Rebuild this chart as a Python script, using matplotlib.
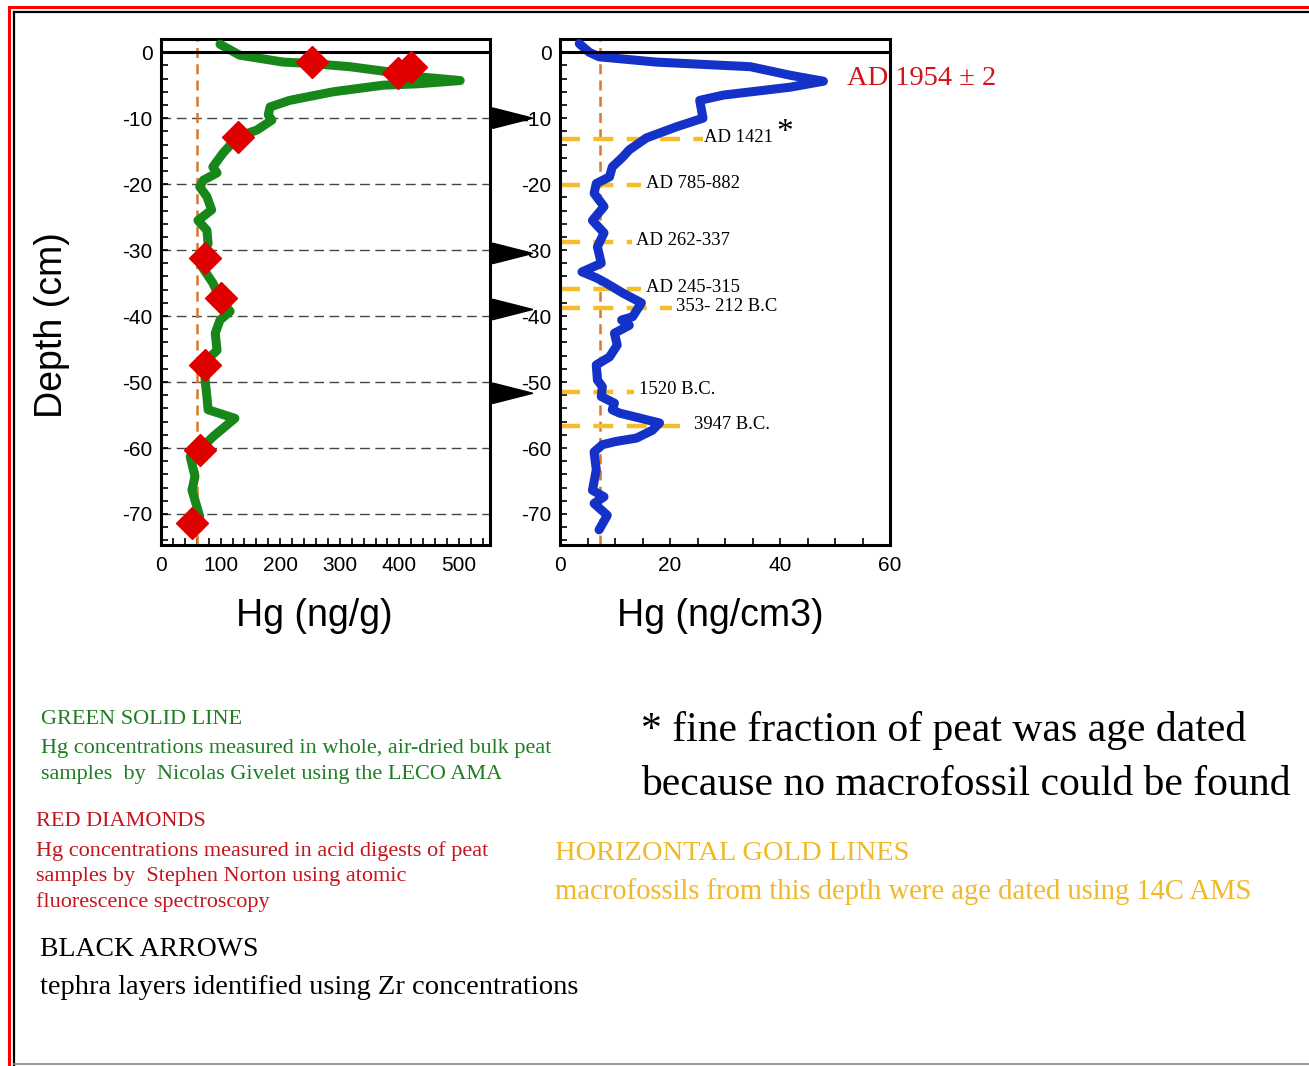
import matplotlib
matplotlib.use('Agg')
import matplotlib.pyplot as plt
from matplotlib.lines import Line2D
from matplotlib.patches import Polygon
import matplotlib.transforms as mtransforms
from matplotlib.ticker import MultipleLocator

plt.rcParams['axes.unicode_minus'] = False

# ---------------- data ----------------
green_hg = [99, 132, 205, 250, 317, 384, 429, 502, 429, 373, 289, 216, 183, 180, 186, 161, 129,
            104, 87, 94, 71, 65, 77, 85, 62, 77, 79, 65, 87, 99, 116, 99, 91, 94, 74, 74, 77,
            79, 124, 87, 65, 49, 57, 52, 57, 65, 52]
green_depth = [1.2, -0.45, -1.5, -1.7, -2.2, -3.0, -3.7, -4.3, -4.8, -5.0, -6.0, -7.3, -8.3, -9.5,
               -10.3, -11.8, -12.8, -15.3, -17.4, -18.3, -19.4, -20.4, -21.9, -23.9, -25.5, -27.0,
               -29.0, -32.0, -35.0, -37.3, -39.3, -40.6, -42.6, -45.2, -46.9, -49.7, -52.2, -54.2,
               -55.5, -58.3, -60.3, -61.3, -64.3, -66.4, -67.9, -70.4, -71.9]

red_hg = [253, 419, 398, 129, 74, 101, 74, 65, 52]
red_depth = [-1.5, -2.3, -3.2, -12.9, -31.2, -37.3, -47.4, -60.3, -71.4]

blue_hg = [3.5, 5.3, 7.1, 17.5, 34.6, 41.9, 47.9, 41.9, 29.7, 25.4, 26.0, 21.2, 15.7, 12.6, 11.4,
           9.5, 9.0, 6.6, 6.2, 8.0, 5.9, 8.0, 6.8, 7.5, 4.0, 6.6, 8.4, 11.4, 14.8, 13.2, 11.2, 12.6,
           9.9, 10.4, 9.0, 6.6, 6.8, 7.7, 7.5, 9.9, 9.5, 10.8, 18.1, 16.8, 13.9, 10.2, 7.7, 6.2,
           6.6, 5.9, 8.0, 6.2, 8.6, 7.1]
blue_depth = [1.3, 0.0, -0.7, -1.5, -2.2, -3.5, -4.4, -5.3, -6.5, -7.3, -10.0, -11.3, -13.0, -14.8,
              -15.9, -17.4, -18.9, -19.9, -21.4, -23.4, -25.5, -27.4, -29.5, -32.0, -33.3, -34.2,
              -35.0, -36.5, -38.0, -40.1, -40.6, -41.4, -42.6, -44.4, -46.2, -47.4, -49.7, -50.7,
              -52.2, -53.2, -54.2, -54.7, -56.2, -57.3, -58.5, -59.0, -59.5, -60.6, -63.3, -66.4,
              -67.4, -68.4, -70.2, -72.4]

background_left = 60      # ng/g
background_right = 7.3    # ng/cm3

tephra_depths = [-10.0, -30.5, -39.0, -51.7]

date_depths = [-13.2, -20.2, -28.8, -35.9, -38.8, -51.5, -56.7]
date_line_end = [26.0, 14.8, 13.0, 14.8, 20.3, 13.5, 23.6]
date_labels = ['AD 1421', 'AD 785-882', 'AD 262-337', 'AD 245-315', '353- 212 B.C', '1520 B.C.', '3947 B.C.']

left_xticks = [0, 100, 200, 300, 400, 500]
right_xticks = [0, 20, 40, 60]
depth_ticks = [0, -10, -20, -30, -40, -50, -60, -70]

# ---------------- style ----------------
W, H = 1309, 1066
GREEN = '#17871a'
BLUE = '#1432c8'
RED = '#e00000'
GOLD = '#f5bd2a'
ORANGE = '#d9782c'
SANS = ['Liberation Sans', 'DejaVu Sans']
SERIF = ['Liberation Serif', 'DejaVu Serif']

fig = plt.figure(figsize=(W / 100, H / 100), dpi=100)
fig.patch.set_facecolor('white')


def fx(px):
    return px / W


def fy(py):
    return 1 - py / H


ax1 = fig.add_axes([fx(161), fy(545), fx(490) - fx(161), fy(39) - fy(545)])
ax2 = fig.add_axes([fx(560), fy(545), fx(890) - fx(560), fy(39) - fy(545)])

for ax in (ax1, ax2):
    ax.set_ylim(-74.7, 2.0)
    ax.set_yticks(depth_ticks)
    ax.yaxis.set_minor_locator(MultipleLocator(2))
    for s in ax.spines.values():
        s.set_linewidth(2.2)
    ax.tick_params(which='both', direction='in', length=5, width=1.2,
                   labelsize=15, top=False, right=False)
    ax.tick_params(axis='y', pad=6)
    ax.tick_params(axis='x', pad=8)
    ax.axhline(0, color='black', lw=2.2, zorder=4)

# left panel
ax1.set_xlim(0, 552)
ax1.set_xticks(left_xticks)
ax1.xaxis.set_minor_locator(MultipleLocator(20))
for d in depth_ticks[1:]:
    ax1.axhline(d, color='#444444', lw=1.0, dashes=(7, 4), zorder=1)
ax1.axvline(background_left, color=ORANGE, lw=1.8, dashes=(4, 2.5), zorder=2)
ax1.plot(green_hg, green_depth, color=GREEN, lw=6.5, solid_capstyle='round',
         solid_joinstyle='round', zorder=3)
ax1.plot(red_hg, red_depth, linestyle='none', marker='D', markersize=16.5,
         color=RED, markeredgecolor=RED, zorder=5)
ax1.set_xlabel('Hg (ng/g)', fontsize=27, family=SANS)
ax1.xaxis.set_label_coords(0.465, (545 - 616) / 506)
ax1.xaxis.label.set_va('center')
ax1.set_ylabel('Depth (cm)', fontsize=27, family=SANS)
ax1.yaxis.set_label_coords((52 - 161) / 329, (545 - 325) / 506)
ax1.yaxis.label.set_va('center')
for lab in ax1.get_xticklabels() + ax1.get_yticklabels():
    lab.set_family(SANS)

# right panel
ax2.set_xlim(0, 60)
ax2.set_xticks(right_xticks)
ax2.xaxis.set_minor_locator(MultipleLocator(5))
ax2.axvline(background_right, color=ORANGE, lw=1.8, dashes=(4, 2.5), zorder=2)
for d, xe in zip(date_depths, date_line_end):
    ax2.plot([0, xe], [d, d], color=GOLD, lw=3.2, dashes=(4.5, 3), zorder=2, clip_on=False)
ax2.plot(blue_hg, blue_depth, color=BLUE, lw=6.5, solid_capstyle='round',
         solid_joinstyle='round', zorder=3)
for d, xe, lab in zip(date_depths, date_line_end, date_labels):
    ax2.text(xe + (0.1 if lab == 'AD 1421' else 0.8), d + 0.3, lab, fontsize=13.4,
             family=SERIF, va='center', ha='left', color='black', zorder=6)
ax2.text(26 + 13.3, date_depths[0] + 1.0, '*', fontsize=24, family=SERIF, va='center', ha='left')
ax2.text(52.1, -4.0, 'AD 1954 \u00b1 2', fontsize=20.5, family=SERIF, color='#d4121a',
         va='center', ha='left', clip_on=False)
ax2.set_xlabel('Hg (ng/cm3)', fontsize=27, family=SANS)
ax2.xaxis.set_label_coords(0.485, (545 - 616) / 506)
ax2.xaxis.label.set_va('center')
for lab in ax2.get_xticklabels() + ax2.get_yticklabels():
    lab.set_family(SANS)

# tephra arrows (black triangles between the panels)
trans = mtransforms.blended_transform_factory(ax1.transAxes, ax1.transData)
for d in tephra_depths:
    tri = Polygon([[1.008, d + 1.55], [1.008, d - 1.55], [1.13, d]], closed=True,
                  facecolor='black', edgecolor='black', transform=trans, clip_on=False, zorder=6)
    ax1.add_patch(tri)

# ---------------- notes ----------------
def note(x, y, s, size, color):
    fig.text(fx(x), fy(y), s, fontsize=size, color=color, family=SERIF, ha='left', va='center')


GREEN_T = '#1f7d23'
RED_T = '#c4141c'
GOLD_T = '#f0b92a'
note(41, 720, 'GREEN SOLID LINE', 16, GREEN_T)
note(41, 749, 'Hg concentrations measured in whole, air-dried bulk peat', 16, GREEN_T)
note(41, 774, 'samples  by  Nicolas Givelet using the LECO AMA', 16, GREEN_T)
note(36, 822, 'RED DIAMONDS', 16, RED_T)
note(36, 851, 'Hg concentrations measured in acid digests of peat', 16, RED_T)
note(36, 877, 'samples by  Stephen Norton using atomic', 16, RED_T)
note(36, 902, 'fluorescence spectroscopy', 16, RED_T)
note(40, 950, 'BLACK ARROWS', 20, 'black')
note(40, 988, 'tephra layers identified using Zr concentrations', 20.5, 'black')
note(641, 731, '* fine fraction of peat was age dated', 30, 'black')
note(641, 785, 'because no macrofossil could be found', 30, 'black')
note(555, 854, 'HORIZONTAL GOLD LINES', 20.5, GOLD_T)
note(555, 892, 'macrofossils from this depth were age dated using 14C AMS', 20.6, GOLD_T)

# ---------------- frame ----------------
fig.add_artist(Line2D([fx(8.5), fx(8.5)], [fy(7), 0], color='#ff0000', lw=2.2))
fig.add_artist(Line2D([fx(8.5), 1], [fy(7), fy(7)], color='#ff0000', lw=2.2))
fig.add_artist(Line2D([fx(13.5), fx(13.5)], [fy(11.5), 0], color='black', lw=1.6))
fig.add_artist(Line2D([fx(13.5), 1], [fy(11.5), fy(11.5)], color='black', lw=1.6))
fig.add_artist(Line2D([fx(13.5), 1], [fy(1063.5), fy(1063.5)], color='#888888', lw=1.2))

fig.savefig('out.png', dpi=100, facecolor='white')
